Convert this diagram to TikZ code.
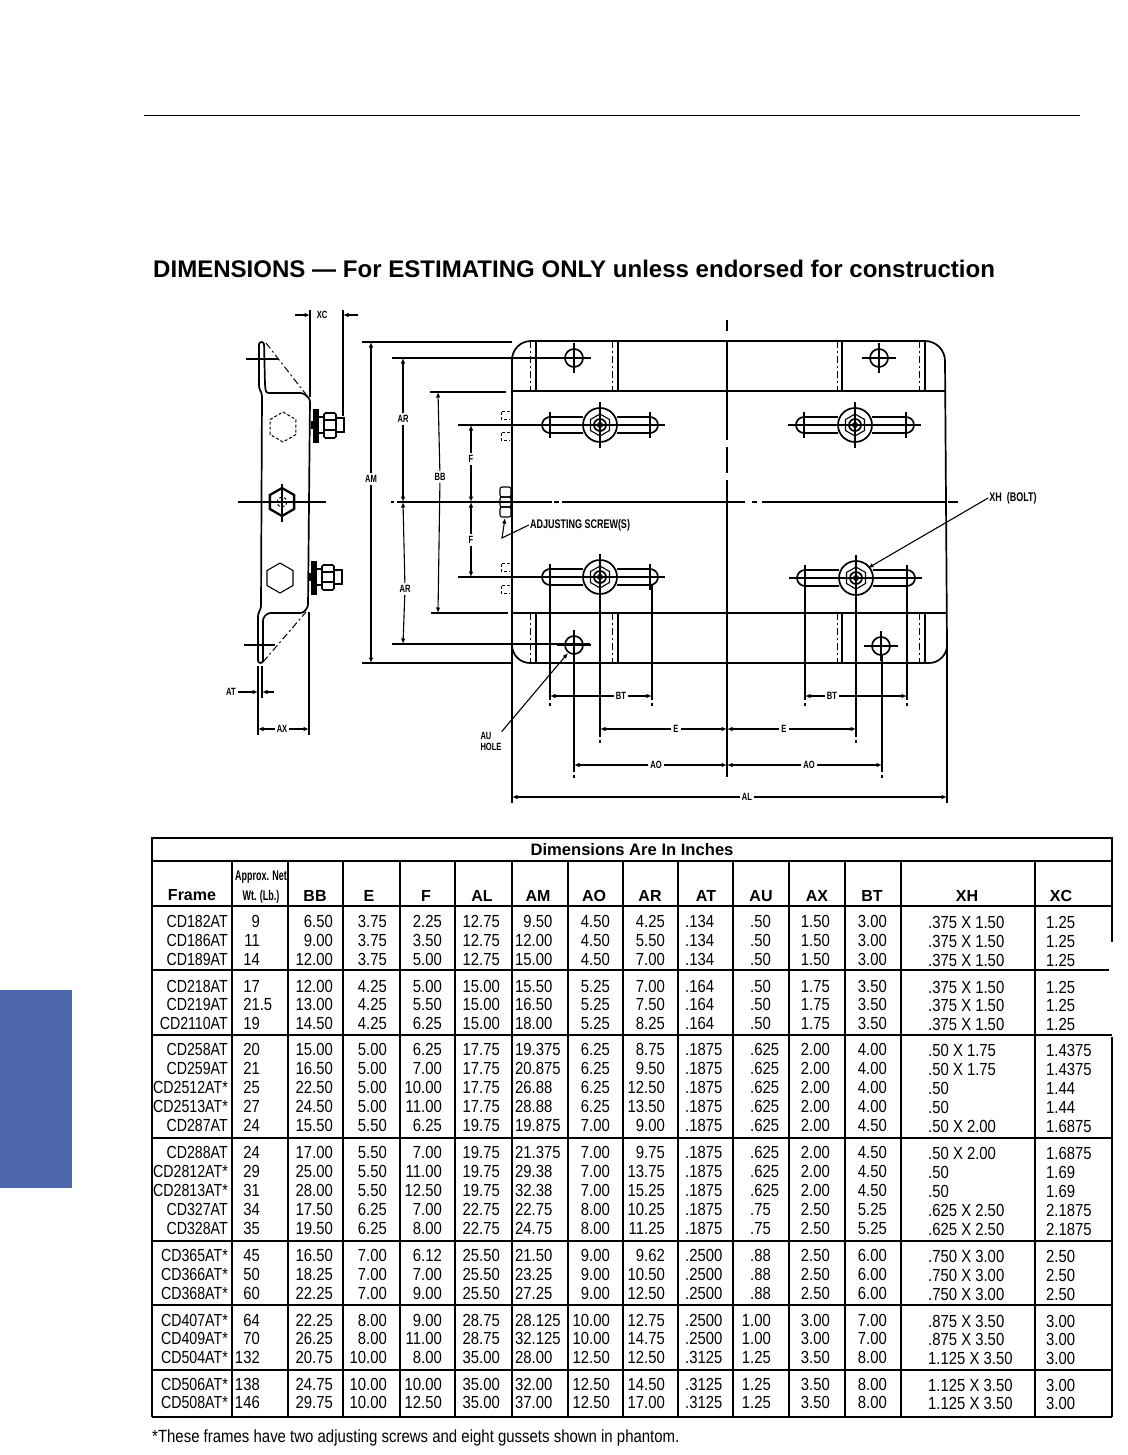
\documentclass[tikz,border=0pt]{standalone}
\usepackage{fontspec}
\usepackage{xcolor}
\usetikzlibrary{arrows.meta}
\setmainfont{Liberation Sans}
\newfontfamily\tabfont[FakeStretch=.85]{Liberation Sans}
\newfontfamily\framefont[FakeStretch=.81]{Liberation Sans}
\newfontfamily\narrowfont[FakeStretch=.64]{Liberation Sans}
\newfontfamily\lblfont[FakeStretch=.72]{Liberation Sans}
\definecolor{tabblue}{RGB}{77,103,173}
\newcommand{\hexat}[4]{([shift={(#1,#2)}]#4:#3) -- ([shift={(#1,#2)}]#4+60:#3) -- ([shift={(#1,#2)}]#4+120:#3) -- ([shift={(#1,#2)}]#4+180:#3) -- ([shift={(#1,#2)}]#4+240:#3) -- ([shift={(#1,#2)}]#4+300:#3) -- cycle}
\tikzset{
	>={Latex[length=5.5pt,width=4.5pt]},
	partline/.style={line width=1.7pt},
	dimline/.style={line width=1.1pt},
	phantomline/.style={line width=1pt, dash pattern=on 7pt off 3pt on 2pt off 3pt},
	shortdash/.style={line width=1pt, dash pattern=on 3pt off 2pt},
	gridline/.style={line width=1.8pt},
	groupline/.style={line width=2.4pt},
	dimlbl/.style={inner sep=2pt, font=\lblfont\bfseries\fontsize{10.5}{11}\selectfont},
	longlbl/.style={inner sep=1pt, font=\lblfont\bfseries\fontsize{12.5}{13}\selectfont},
	cellr/.style={inner sep=0pt, anchor=base east, font=\tabfont\fontsize{17.5}{18}\selectfont},
	celll/.style={inner sep=0pt, anchor=base west, font=\tabfont\fontsize{17.5}{18}\selectfont},
	framecell/.style={inner sep=0pt, anchor=base east, font=\framefont\fontsize{17.5}{18}\selectfont},
	hdcell/.style={inner sep=0pt, anchor=base, font=\bfseries\fontsize{16}{17}\selectfont},
	wtcell/.style={inner sep=0pt, anchor=base, font=\narrowfont\bfseries\fontsize{14}{15}\selectfont}
}

\begin{document}
\begin{tikzpicture}[x=1pt,y=-1pt]
	\useasboundingbox (0,0) rectangle (1127,1455);

	\draw[line width=1pt] (144,115.5) -- (1080,115.5);
	\fill[tabblue] (0,990) rectangle (72,1188);
	\node[inner sep=0pt, anchor=base west, font=\bfseries\fontsize{24.05}{25}\selectfont] (title) at (153,277) {DIMENSIONS — For ESTIMATING ONLY unless endorsed for construction};

	% side view
	\draw[partline,rounded corners=2.5pt] (259,342) -- (264,342) -- (265,385) -- (266,393) -- (303,393) -- (310,399) -- (308,607) -- (303,613) -- (268,613) -- (263,618) -- (263,663) -- (258,663) -- (258,614) -- (261,608) -- (262,394) -- (259,388) -- cycle;
	\draw[phantomline] (266,343) -- (308,397);
	\draw[phantomline] (263,662) -- (306,612);
	\draw[dimline] (246,359) -- (278,359);
	\draw[dimline] (244,645) -- (275,645);
	\draw[shortdash] \hexat{283}{427}{15}{30};
	\draw[dimline] \hexat{280}{578}{15}{30};
	\draw[line width=2.3pt] \hexat{282}{502}{14}{30};
	\draw[shortdash] (282,502) circle (5);
	\draw[dimline] (282,484) -- (282,522);
	\draw[dimline] (238,502) -- (326,502);
	\foreach \dx/\dy in {0/425,-2/577} {
		\draw[partline] (\dx+312,\dy-4) -- (\dx+312,\dy+4);
		\draw[partline,fill=black] (\dx+314,\dy-15) rectangle (\dx+318,\dy+17);
		\draw[dimline] (\dx+318,\dy-8) rectangle (\dx+324,\dy+8);
		\draw[partline,rounded corners=1.5pt] (\dx+324,\dy-12) rectangle (\dx+336,\dy+13);
		\draw[dimline] (\dx+324,\dy-5) -- (\dx+336,\dy-5);
		\draw[dimline] (\dx+324,\dy+5) -- (\dx+336,\dy+5);
		\draw[partline] (\dx+336,\dy-7) -- (\dx+344,\dy-7) -- (\dx+344,\dy+7) -- (\dx+336,\dy+7);
	}
	\draw[dimline] (310,310) -- (310,397);
	\draw[dimline] (343,310) -- (343,416);
	\draw[dimline] (258,666) -- (258,735);
	\draw[dimline] (262,666) -- (262,698);
	\draw[dimline] (309,612) -- (309,735);

	\node[dimlbl] (lblXC) at (322,315) {XC};
	\coordinate (xcA) at (295,315);
	\coordinate (xcB) at (310,315);
	\coordinate (xcC) at (358,315);
	\coordinate (xcD) at (343,315);
	\draw[dimline,->] (xcA) -- (xcB);
	\draw[dimline,->] (xcC) -- (xcD);
	\node[dimlbl] (lblAT) at (231,692) {AT};
	\coordinate (atA) at (258,692);
	\coordinate (atB) at (274,692);
	\coordinate (atC) at (262,692);
	\draw[dimline,->] (lblAT) -- (atA);
	\draw[dimline,->] (atB) -- (atC);
	\node[dimlbl] (lblAX) at (282,729) {AX};
	\coordinate (axL) at (258,729);
	\coordinate (axR) at (309,729);
	\draw[dimline,->] (lblAX) -- (axL);
	\draw[dimline,->] (lblAX) -- (axR);

	% plate
	\draw[partline] (512,360) arc (180:270:19) -- (925,341) arc (270:360:20) -- (947,645) arc (0:90:18) -- (530,663) arc (90:180:18) -- cycle;
	\draw[partline] (512,391) -- (945,391);
	\draw[partline] (512,613) -- (947,613);
	\draw[partline] (512,645) -- (512,803);
	\draw[partline] (947,645) -- (947,803);
	\draw[partline] (362,342) -- (512,342);
	\draw[partline] (362,663) -- (512,663);
	\draw[partline] (392,358) -- (590,358);
	\draw[partline] (392,644) -- (590,644);
	\draw[partline] (430,392) -- (506,392);
	\draw[partline] (431,613) -- (508,613);
	\draw[partline] (458,425) -- (545,425);
	\draw[partline] (458,577) -- (545,577);
	\foreach \lx/\ly in {391/394,397/552,554/559,562/745,752/757,762/945,948/958} {
		\draw[partline] (\lx,502) -- (\ly,502);
	}
	\foreach \ly/\lz in {320/331,340/440,447/473,480/777} {
		\draw[partline] (727,\ly) -- (727,\lz);
	}
	\foreach \gx in {530,612,837,919} {
		\draw[phantomline] (\gx,341) -- (\gx,391);
		\draw[phantomline] (\gx,613) -- (\gx,663);
	}
	\foreach \gx in {536,618,842,925} {
		\draw[dimline] (\gx,341) -- (\gx,391);
		\draw[dimline] (\gx,613) -- (\gx,663);
	}
	\foreach \cy in {415,436,567,589} {
		\draw[shortdash] (510,\cy-4) -- (501,\cy-4) -- (501,\cy+4) -- (510,\cy+4);
	}
	\draw[dimline,rounded corners=2pt] (500,487) rectangle (511,497);
	\draw[dimline,rounded corners=2pt] (500,497) rectangle (511,507);
	\draw[dimline,rounded corners=2pt] (500,507) rectangle (511,517);

	% bolts and slots
	\foreach \bx/\by/\sl/\sr in {600/425/542/658,855/425/796/914,600/577/542/658,856/578/797/915} {
		\draw[partline] (\sl+8,\by-8) -- (\bx-17,\by-8);
		\draw[partline] (\bx+17,\by-8) -- (\sr-8,\by-8) arc (-90:90:8) -- (\bx+17,\by+8);
		\draw[partline] (\bx-17,\by+8) -- (\sl+8,\by+8) arc (90:270:8);
		\draw[partline] (\bx,\by) circle (17);
		\draw[dimline] \hexat{\bx}{\by}{11}{30};
		\draw[partline] (\bx,\by) circle (6);
		\draw[dimline] (\bx,\by) circle (2.5);
		\draw[dimline] (\bx,\by-23) -- (\bx,\by+23);
		\draw[dimline] (\sl-8,\by) -- (\sr+7,\by);
		\draw[dimline] (\sl+8,\by-13) -- (\sl+8,\by+13);
		\draw[dimline] (\sr-8,\by-13) -- (\sr-8,\by+13);
	}
	% mounting holes
	\foreach \hx/\hy in {574/358,879/358,574/645,881/646} {
		\draw[partline] (\hx,\hy) circle (9);
		\draw[dimline] (\hx-17,\hy) -- (\hx+17,\hy);
		\draw[dimline] (\hx,\hy-15) -- (\hx,\hy+15);
		\fill (\hx,\hy) circle (1.3);
	}

	% extension lines below the plate
	\foreach \ex/\et/\eb in {550/585/700,652/585/700,600/594/737,574/654/772,805/585/700,907/585/700,856/594/737,882/655/772} {
		\draw[dimline] (\ex,\et) -- (\ex,\eb);
		\draw[dimline] (\ex,\eb+3) -- (\ex,\eb+6);
	}

	% dimensions left of the plate
	\node[dimlbl] (lblAM) at (371,479) {AM};
	\coordinate (amT) at (371,342);
	\coordinate (amB) at (371,663);
	\draw[dimline,->] (lblAM) -- (amT);
	\draw[dimline,->] (lblAM) -- (amB);
	\node[dimlbl] (lblARt) at (403,419) {AR};
	\coordinate (arT) at (403,358);
	\coordinate (arM) at (403,502);
	\coordinate (arB) at (403,644);
	\draw[dimline,->] (lblARt) -- (arT);
	\draw[dimline,->] (lblARt) -- (arM);
	\node[dimlbl] (lblARb) at (405,589) {AR};
	\draw[dimline,->] (lblARb) -- (arM);
	\draw[dimline,->] (lblARb) -- (arB);
	\node[dimlbl] (lblBB) at (440,477) {BB};
	\coordinate (bbT) at (438,392);
	\coordinate (bbB) at (438,613);
	\draw[dimline,->] (lblBB) -- (bbT);
	\draw[dimline,->] (lblBB) -- (bbB);
	\node[dimlbl] (lblFt) at (471,459) {F};
	\node[dimlbl] (lblFb) at (471,540) {F};
	\coordinate (fT) at (471,425);
	\coordinate (fM) at (471,502);
	\coordinate (fB) at (471,577);
	\draw[dimline,->] (lblFt) -- (fT);
	\draw[dimline,->] (lblFt) -- (fM);
	\draw[dimline,->] (lblFb) -- (fM);
	\draw[dimline,->] (lblFb) -- (fB);

	% dimensions below the plate
	\foreach \dn/\dt/\dx/\dy/\dl/\dr in {BTa/BT/621/696/550/652,BTb/BT/832/696/805/907,Ea/E/676/729/600/727,Eb/E/784/729/727/856,AOa/AO/656/765/574/727,AOb/AO/809/765/727/882,AL/AL/747/797/512/947} {
		\node[dimlbl] (lbl\dn) at (\dx,\dy) {\dt};
		\coordinate (\dn L) at (\dl,\dy);
		\coordinate (\dn R) at (\dr,\dy);
		\draw[dimline,->] (lbl\dn) -- (\dn L);
		\draw[dimline,->] (lbl\dn) -- (\dn R);
	}

	% leaders
	\node[longlbl] (lblScrew) at (580,525) {ADJUSTING SCREW(S)};
	\coordinate (screwA) at (502,538);
	\coordinate (screwB) at (505,518);
	\draw[dimline,->] (lblScrew.west) -- (screwA) -- (screwB);
	\node[longlbl] (lblXH) at (1013,498) {XH\ \ (BOLT)};
	\coordinate (xhEnd) at (868,568);
	\draw[dimline,->] (lblXH.west) -- (xhEnd);
	\node[dimlbl, inner sep=0pt, align=left] (lblAU) at (491,741) {AU\\HOLE};
	\coordinate (auEnd) at (568,653);
	\draw[dimline,->] (lblAU.north east) -- (auEnd);

	% table
	\draw[gridline] (152,838) rectangle (1112,861);
	\foreach \gy/\gr in {906/1112,970/1109,1035/1112,1138/1112,1241/1112,1305/1112,1370/1112,1417/1112} {
		\draw[groupline] (152,\gy) -- (\gr,\gy);
	}
	\draw[gridline] (152,861) -- (152,1417);
	\draw[gridline] (1112,861) -- (1112,942);
	\draw[gridline] (1112,1037) -- (1112,1417);
	\foreach \vx in {232,288,343,400,455,512,568,623,678,733,789,845,901,1035} {
		\draw[gridline] (\vx,861) -- (\vx,1417);
	}

	\node[hdcell, font=\bfseries\fontsize{16.6}{17}\selectfont] (hdTop) at (632,855) {Dimensions Are In Inches};
	\node[hdcell] (hdFrame) at (192,900) {Frame};
	\node[wtcell] (hdWtA) at (261,880) {Approx. Net};
	\node[wtcell] (hdWtB) at (261,900) {Wt. (Lb.)};
	\foreach \hx/\hname in {315/BB,369/E,426/F,482/AL,538/AM,594/AO,650/AR,706/AT,761/AU,817/AX,872/BT,967/XH,1061/XC} {
		\node[hdcell] (hd\hname) at (\hx,901) {\hname};
	}

	\foreach \vy/\vfrm/\vwt/\vbb/\ve/\vf/\val/\vam/\vao/\var/\vat/\vau/\vax/\vbt/\vxh/\vxc [count=\rowi] in {
		927/CD182AT/9/6.50/3.75/2.25/12.75/\hphantom{1}9.50/4.50/4.25/.134/.50/1.50/3.00/.375 X 1.50/1.25,
		946/CD186AT/11/9.00/3.75/3.50/12.75/12.00/4.50/5.50/.134/.50/1.50/3.00/.375 X 1.50/1.25,
		965/CD189AT/14/12.00/3.75/5.00/12.75/15.00/4.50/7.00/.134/.50/1.50/3.00/.375 X 1.50/1.25,
		992/CD218AT/17/12.00/4.25/5.00/15.00/15.50/5.25/7.00/.164/.50/1.75/3.50/.375 X 1.50/1.25,
		1010/CD219AT/21\rlap{.5}/13.00/4.25/5.50/15.00/16.50/5.25/7.50/.164/.50/1.75/3.50/.375 X 1.50/1.25,
		1029/CD2110AT/19/14.50/4.25/6.25/15.00/18.00/5.25/8.25/.164/.50/1.75/3.50/.375 X 1.50/1.25,
		1055/CD258AT/20/15.00/5.00/6.25/17.75/19.375/6.25/8.75/.1875/.625/2.00/4.00/.50 X 1.75/1.4375,
		1074/CD259AT/21/16.50/5.00/7.00/17.75/20.875/6.25/9.50/.1875/.625/2.00/4.00/.50 X 1.75/1.4375,
		1093/CD2512AT*/25/22.50/5.00/10.00/17.75/26.88/6.25/12.50/.1875/.625/2.00/4.00/.50/1.44,
		1112/CD2513AT*/27/24.50/5.00/11.00/17.75/28.88/6.25/13.50/.1875/.625/2.00/4.00/.50/1.44,
		1131/CD287AT/24/15.50/5.50/6.25/19.75/19.875/7.00/9.00/.1875/.625/2.00/4.50/.50 X 2.00/1.6875,
		1158/CD288AT/24/17.00/5.50/7.00/19.75/21.375/7.00/9.75/.1875/.625/2.00/4.50/.50 X 2.00/1.6875,
		1177/CD2812AT*/29/25.00/5.50/11.00/19.75/29.38/7.00/13.75/.1875/.625/2.00/4.50/.50/1.69,
		1196/CD2813AT*/31/28.00/5.50/12.50/19.75/32.38/7.00/15.25/.1875/.625/2.00/4.50/.50/1.69,
		1215/CD327AT/34/17.50/6.25/7.00/22.75/22.75/8.00/10.25/.1875/.75/2.50/5.25/.625 X 2.50/2.1875,
		1234/CD328AT/35/19.50/6.25/8.00/22.75/24.75/8.00/11.25/.1875/.75/2.50/5.25/.625 X 2.50/2.1875,
		1261/CD365AT*/45/16.50/7.00/6.12/25.50/21.50/9.00/9.62/.2500/.88/2.50/6.00/.750 X 3.00/2.50,
		1280/CD366AT*/50/18.25/7.00/7.00/25.50/23.25/9.00/10.50/.2500/.88/2.50/6.00/.750 X 3.00/2.50,
		1299/CD368AT*/60/22.25/7.00/9.00/25.50/27.25/9.00/12.50/.2500/.88/2.50/6.00/.750 X 3.00/2.50,
		1326/CD407AT*/64/22.25/8.00/9.00/28.75/28.125/10.00/12.75/.2500/\llap{1}.00/3.00/7.00/.875 X 3.50/3.00,
		1344/CD409AT*/70/26.25/8.00/11.00/28.75/32.125/10.00/14.75/.2500/\llap{1}.00/3.00/7.00/.875 X 3.50/3.00,
		1363/CD504AT*/132/20.75/10.00/8.00/35.00/28.00/12.50/12.50/.3125/\llap{1}.25/3.50/8.00/1.125 X 3.50/3.00,
		1390/CD506AT*/138/24.75/10.00/10.00/35.00/32.00/12.50/14.50/.3125/\llap{1}.25/3.50/8.00/1.125 X 3.50/3.00,
		1408/CD508AT*/146/29.75/10.00/12.50/35.00/37.00/12.50/17.00/.3125/\llap{1}.25/3.50/8.00/1.125 X 3.50/3.00%
	} {
		\node[framecell] (frm\rowi) at (228,\vy) {\vfrm};
		\node[cellr] (wt\rowi) at (260,\vy) {\vwt};
		\node[cellr] (bb\rowi) at (333,\vy) {\vbb};
		\node[cellr] (e\rowi) at (387,\vy) {\ve};
		\node[cellr] (f\rowi) at (442,\vy) {\vf};
		\node[cellr] (al\rowi) at (500,\vy) {\val};
		\node[celll] (am\rowi) at (515,\vy) {\vam};
		\node[cellr] (ao\rowi) at (610,\vy) {\vao};
		\node[cellr] (ar\rowi) at (665,\vy) {\var};
		\node[celll] (at\rowi) at (685,\vy) {\vat};
		\node[celll] (au\rowi) at (750,\vy) {\vau};
		\node[cellr] (ax\rowi) at (830,\vy) {\vax};
		\node[cellr] (bt\rowi) at (887,\vy) {\vbt};
		\node[celll] (xh\rowi) at (928,\vy+1) {\vxh};
		\node[celll] (xc\rowi) at (1046,\vy+1) {\vxc};
	}

	\node[inner sep=0pt, anchor=base west, font=\tabfont\fontsize{17.6}{18}\selectfont] (footnote) at (152,1442) {*These frames have two adjusting screws and eight gussets shown in phantom.};
\end{tikzpicture}
\end{document}
